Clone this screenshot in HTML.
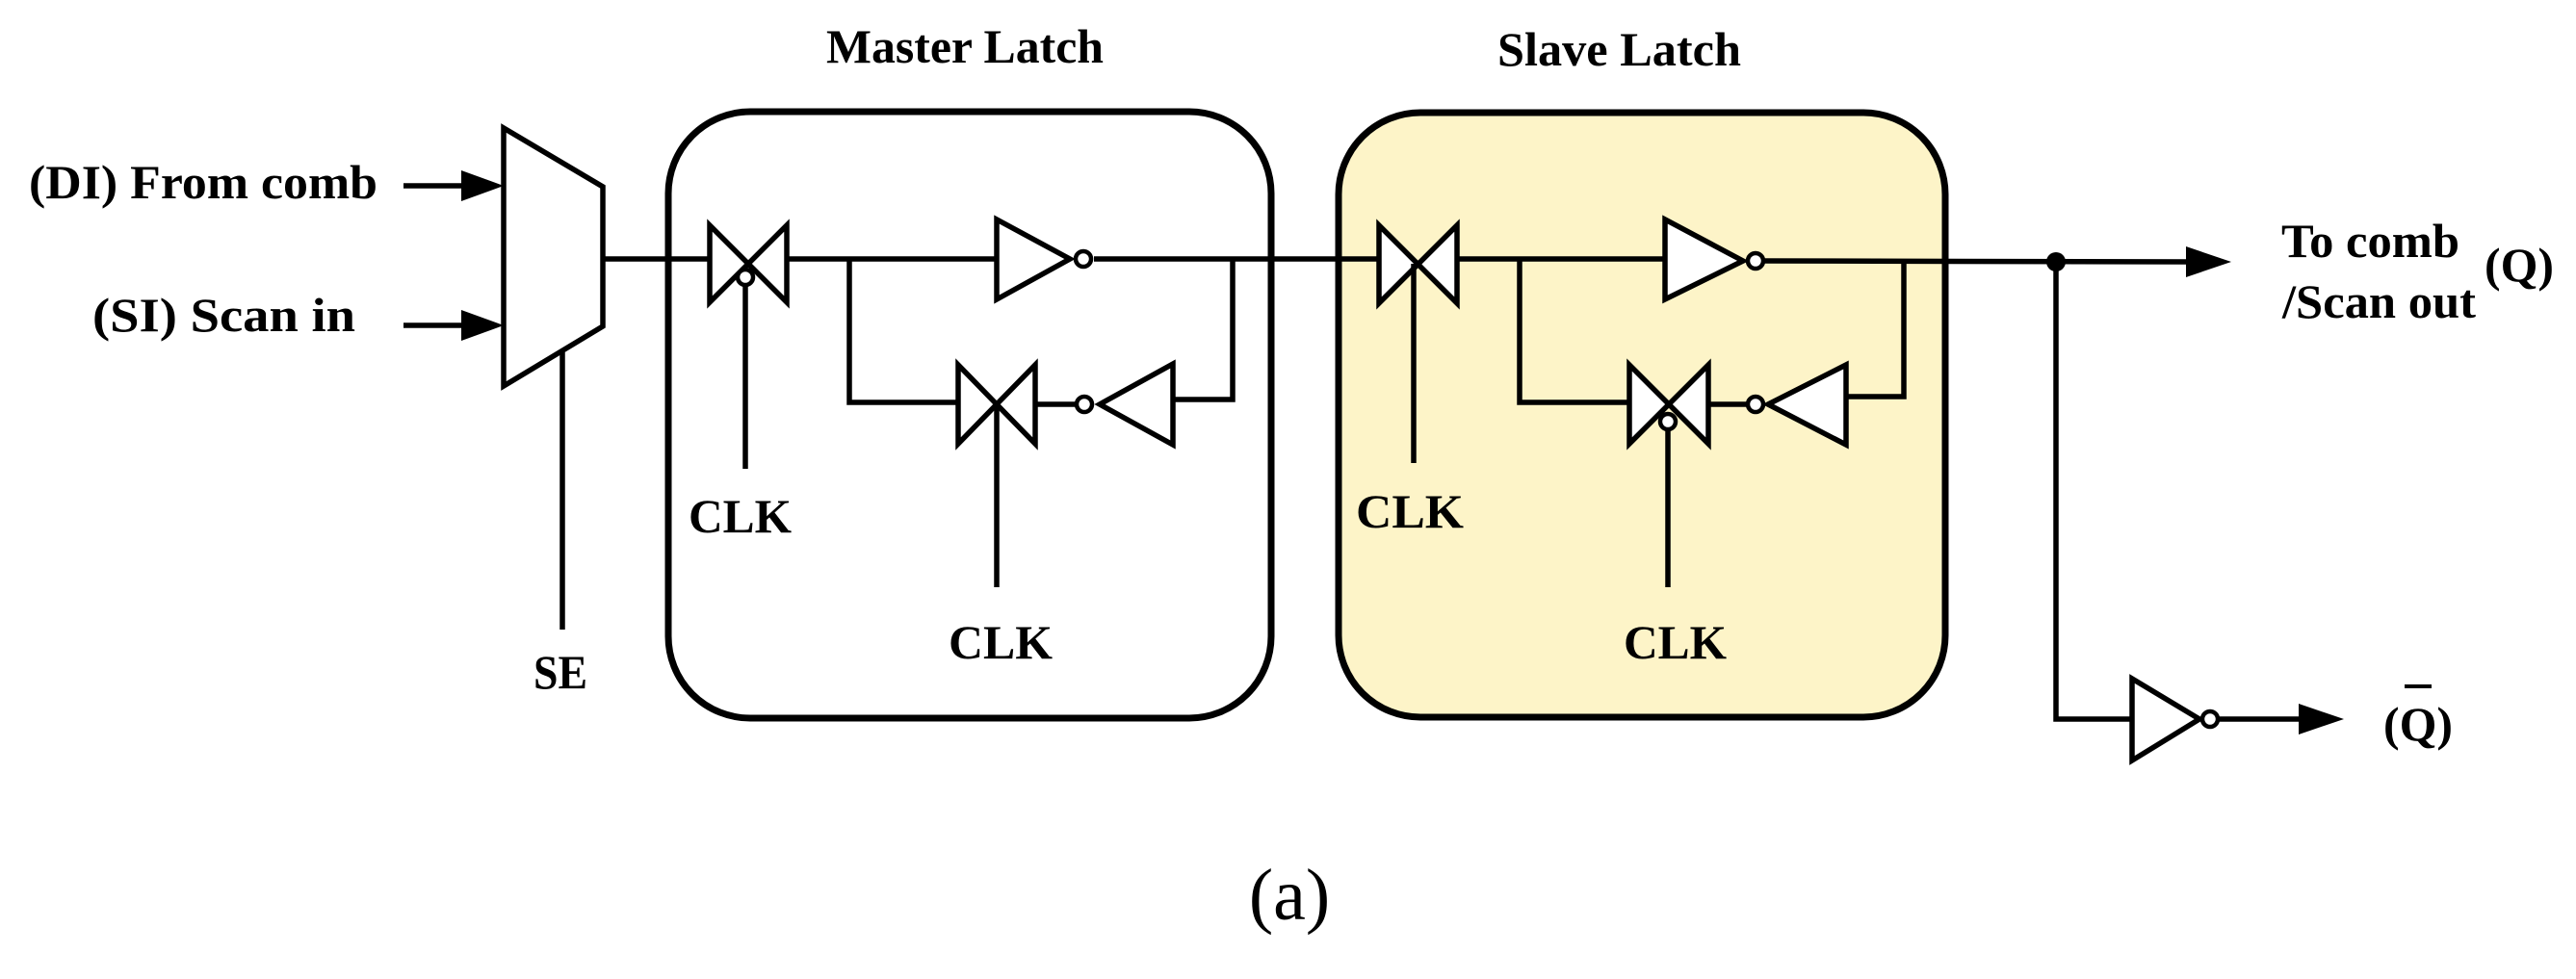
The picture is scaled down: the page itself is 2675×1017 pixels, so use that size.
<!DOCTYPE html>
<html><head><meta charset="utf-8"><style>html,body{margin:0;padding:0;background:#fff}svg{display:block}</style></head>
<body>
<svg width="2675" height="1017" viewBox="0 0 2675 1017" xmlns="http://www.w3.org/2000/svg">
<g stroke="#000" stroke-width="7" fill="none">
<rect x="694" y="116" width="626" height="630" rx="85" fill="#fff"/>
<rect x="1390" y="117" width="630" height="628" rx="85" fill="#fdf4c8"/>
</g>

<g stroke="#000" stroke-width="5.5" fill="none" stroke-linejoin="miter">
<polygon points="523,133 626,194 626,339 523,401" fill="#fff"/>
<line x1="419" y1="193" x2="480" y2="193"/>
<line x1="419" y1="338" x2="480" y2="338"/>
<line x1="584" y1="366" x2="584" y2="654"/>
<line x1="626" y1="269" x2="735" y2="269"/>
<line x1="819" y1="269" x2="1035" y2="269"/>
<line x1="1136" y1="269" x2="1430" y2="269"/>
<line x1="1515" y1="269" x2="1729" y2="269"/>
<line x1="1832" y1="271" x2="2275" y2="272"/>
<polyline points="882,269 882,418 994,418"/>
<line x1="1077" y1="420" x2="1118" y2="420"/>
<polyline points="1218,415 1280,415 1280,269"/>
<polyline points="1578,269 1578,418 1690,418"/>
<line x1="1776" y1="420" x2="1814" y2="420"/>
<polyline points="1917,412 1977,412 1977,271"/>
<polygon points="737,234 737,314 817,234 817,314" fill="#fff"/>
<line x1="774" y1="297" x2="774" y2="487"/>
<polygon points="995,379 995,461 1075,379 1075,461" fill="#fff"/>
<line x1="1035" y1="420" x2="1035" y2="610"/>
<polygon points="1432,234 1432,315 1513,234 1513,315" fill="#fff"/>
<line x1="1468" y1="274" x2="1468" y2="481"/>
<polygon points="1692,379 1692,461 1774,379 1774,461" fill="#fff"/>
<line x1="1732" y1="446" x2="1732" y2="610"/>
<polygon points="1035,228 1035,311 1111,269" fill="#fff"/>
<polygon points="1218,378 1218,462 1142,420" fill="#fff"/>
<polygon points="1729,228 1729,311 1810,271" fill="#fff"/>
<polygon points="1917,379 1917,462 1836,420" fill="#fff"/>
<polyline points="2135,272 2135,747 2214,747"/>
<polygon points="2214,705 2214,790 2284,747" fill="#fff"/>
<line x1="2303" y1="747" x2="2390" y2="747"/>
</g>
<g stroke="#000" stroke-width="4.5" fill="#fff">
<circle cx="774" cy="288" r="8"/>
<circle cx="1125" cy="269" r="8"/>
<circle cx="1126" cy="420" r="8"/>
<circle cx="1823" cy="271" r="8"/>
<circle cx="1823" cy="420" r="8"/>
<circle cx="1732" cy="438" r="8"/>
<circle cx="2295" cy="747" r="8"/>
</g>
<g fill="#000">
<polygon points="479,177 523,193 479,209"/>
<polygon points="479,322 523,338 479,354"/>
<polygon points="2270,256 2317,272 2270,288"/>
<polygon points="2387,731 2434,747 2387,763"/>
<circle cx="2135" cy="272" r="10"/>
</g>

<g font-family="Liberation Serif, serif" font-weight="bold" fill="#000">
<text x="858" y="65" font-size="50" textLength="288" lengthAdjust="spacingAndGlyphs">Master Latch</text>
<text x="1555" y="68" font-size="50" textLength="253" lengthAdjust="spacingAndGlyphs">Slave Latch</text>
<text x="30" y="206" font-size="50" textLength="362" lengthAdjust="spacingAndGlyphs">(DI)  From comb</text>
<text x="96" y="344" font-size="50" textLength="273" lengthAdjust="spacingAndGlyphs">(SI)  Scan in</text>
<text x="554" y="715" font-size="50" textLength="56" lengthAdjust="spacingAndGlyphs">SE</text>
<text x="715" y="553" font-size="50" textLength="107" lengthAdjust="spacingAndGlyphs">CLK</text>
<text x="985" y="684" font-size="50" textLength="108" lengthAdjust="spacingAndGlyphs">CLK</text>
<text x="1408" y="548" font-size="50" textLength="112" lengthAdjust="spacingAndGlyphs">CLK</text>
<text x="1686" y="684" font-size="50" textLength="107" lengthAdjust="spacingAndGlyphs">CLK</text>
<text x="2369" y="267" font-size="50" textLength="185" lengthAdjust="spacingAndGlyphs">To comb</text>
<text x="2370" y="330" font-size="50" textLength="201" lengthAdjust="spacingAndGlyphs">/Scan out</text>
<text x="2580" y="292" font-size="50" textLength="72" lengthAdjust="spacingAndGlyphs">(Q)</text>
<text x="2475" y="769" font-size="50" textLength="72" lengthAdjust="spacingAndGlyphs">(Q)</text>
</g>
<line x1="2497" y1="713" x2="2525" y2="713" stroke="#000" stroke-width="4"/>
<text x="1339" y="955" font-family="Liberation Serif, serif" font-size="76" text-anchor="middle">(a)</text>
</svg>
</body></html>
